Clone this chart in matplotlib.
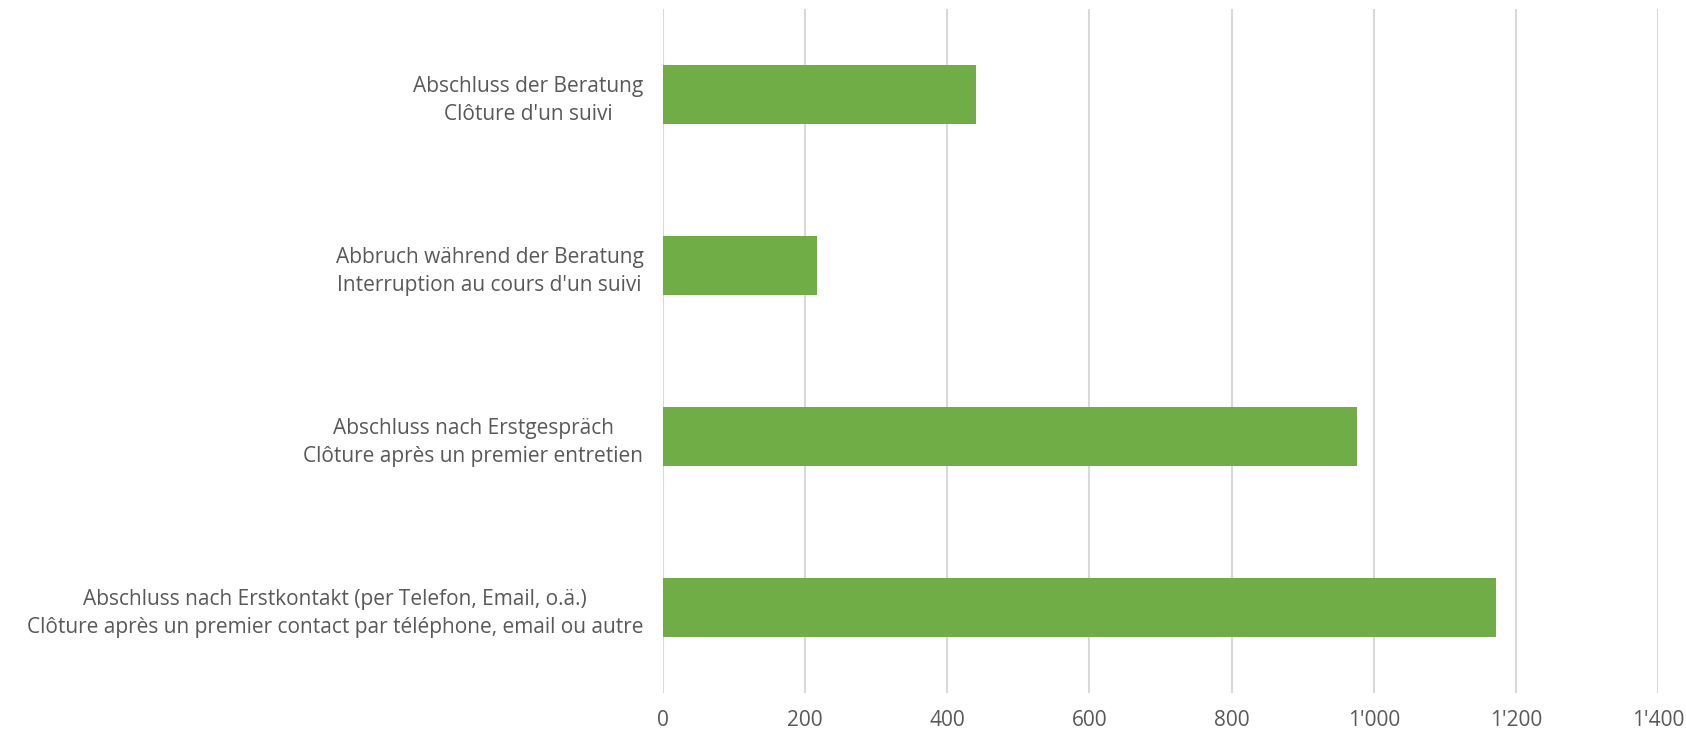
import matplotlib
matplotlib.use("Agg")
import matplotlib.pyplot as plt
from matplotlib.ticker import FuncFormatter

# categories listed top to bottom
categories = [
    "Abschluss der Beratung\nClôture d'un suivi",
    "Abbruch während der Beratung\nInterruption au cours d'un suivi",
    "Abschluss nach Erstgespräch\nClôture après un premier entretien",
    "Abschluss nach Erstkontakt (per Telefon, Email, o.ä.)\nClôture après un premier contact par téléphone, email ou autre",
]
values = [441, 217, 977, 1172]
x_ticks = [0, 200, 400, 600, 800, 1000, 1200, 1400]

TEXT = "#595959"
GRID = "#d9d9d9"
GREEN = "#70ad47"

plt.rcParams["font.family"] = ["Open Sans", "DejaVu Sans"]

fig = plt.figure(figsize=(16.86, 7.36), dpi=100)
ax = fig.add_axes([0.3932, 0.0584, 0.5902, 0.9294])

pos = list(range(len(categories)))
ax.barh(pos, values, height=0.35, color=GREEN, zorder=3)

ax.set_ylim(len(categories) - 0.5, -0.5)
ax.set_xlim(0, 1400)
ax.set_xticks(x_ticks)
ax.xaxis.set_major_formatter(FuncFormatter(lambda v, _: f"{int(v):,}".replace(",", "'")))
ax.set_yticks(pos)
ax.set_yticklabels(categories, multialignment="center", linespacing=1.45)

ax.grid(axis="x", color=GRID, linewidth=1.5, zorder=0)
for s in ax.spines.values():
    s.set_visible(False)
ax.tick_params(axis="both", length=0, colors=TEXT, labelsize=15)
ax.tick_params(axis="y", pad=14)
ax.tick_params(axis="x", pad=12)

fig.savefig("out.png", dpi=100)
